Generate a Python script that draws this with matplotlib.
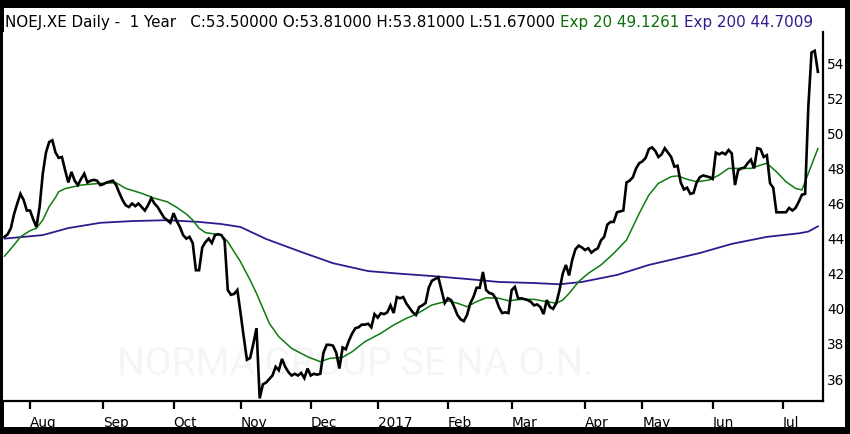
import matplotlib
matplotlib.use("Agg")
import matplotlib.pyplot as plt
import numpy as np
import pandas as pd
from matplotlib.patches import Rectangle

# ---------------- data ----------------
holidays = ["2016-12-26", "2017-04-14", "2017-04-17", "2017-05-01"]

close = [
    44.1, 44.25, 44.6, 45.4, 46.0, 46.55, 46.2, 45.6, 45.6, 45.1,
    44.66, 45.8, 47.7, 48.9, 49.5, 49.6, 48.9, 48.6, 48.65, 47.9,
    47.2, 47.8, 47.3, 47.05, 47.4, 47.7, 47.2, 47.3, 47.35, 47.3,
    47.05, 47.1, 47.2, 47.25, 47.3, 47.05, 46.6, 46.2, 45.9, 45.8,
    46.0, 45.85, 46.0, 45.8, 45.6, 45.9, 46.3, 46.0, 45.8, 45.5,
    45.2, 45.05, 44.9, 45.45, 45.0, 44.66, 44.2, 44.0, 44.1, 43.75,
    42.2, 42.2, 43.5, 43.8, 44.0, 43.75, 44.2, 44.25, 44.2, 43.9,
    41.07, 40.8, 40.85, 41.07, 39.76, 38.4, 37.1, 37.2, 38.0, 38.9,
    34.9, 35.7, 35.8, 36.0, 36.2, 36.7, 36.5, 37.15, 36.7, 36.4,
    36.2, 36.3, 36.2, 36.35, 36.05, 36.6, 36.2, 36.3, 36.25, 36.3,
    37.5, 37.95, 37.95, 37.9, 37.5, 36.6, 37.8, 37.7, 38.2, 38.6,
    38.9, 38.95, 39.1, 39.1, 39.15, 38.95, 39.7, 39.5, 39.75, 39.7,
    39.8, 40.2, 39.76, 40.67, 40.6, 40.67, 40.3, 40.05, 39.8, 39.65,
    40.1, 40.2, 40.33, 41.2, 41.6, 41.7, 41.8, 41.07, 40.33, 40.6,
    40.5, 40.1, 39.65, 39.4, 39.3, 39.65, 40.3, 40.67, 41.2, 41.2,
    42.1, 41.07, 40.9, 40.85, 40.6, 40.1, 39.76, 39.8, 39.76, 41.07,
    41.25, 40.6, 40.6, 40.55, 40.5, 40.4, 40.2, 40.25, 40.1, 39.7,
    40.5, 40.1, 40.0, 40.33, 41.07, 42.0, 42.5, 41.9, 42.8, 43.4,
    43.6, 43.5, 43.35, 43.45, 43.2, 43.35, 43.45, 43.9, 44.1, 44.8,
    44.95, 44.95, 45.5, 45.55, 45.6, 47.2, 47.3, 47.5, 48.0, 48.3,
    48.4, 48.6, 49.1, 49.2, 49.0, 48.65, 48.8, 49.15, 48.9, 48.65,
    48.1, 48.15, 47.2, 46.8, 46.9, 46.55, 46.6, 47.2, 47.5, 47.6,
    47.55, 47.5, 47.4, 48.9, 48.8, 48.9, 48.8, 49.05, 48.85, 47.05,
    47.9, 48.0, 48.05, 48.3, 48.5, 48.0, 49.15, 49.1, 48.65, 48.75,
    47.15, 46.9, 45.5, 45.5, 45.5, 45.5, 45.75, 45.6, 45.75, 46.1,
    46.5, 46.55, 51.5, 54.6, 54.7, 53.5,
]

ema20_dates = [
    "2016-07-20", "2016-07-25", "2016-07-27", "2016-08-01", "2016-08-03",
    "2016-08-05", "2016-08-09", "2016-08-11", "2016-08-12", "2016-08-16",
    "2016-08-23", "2016-08-31", "2016-09-07", "2016-09-12", "2016-09-19",
    "2016-09-23", "2016-09-29", "2016-10-04", "2016-10-07", "2016-10-11",
    "2016-10-13", "2016-10-17", "2016-10-24", "2016-10-26", "2016-10-28",
    "2016-11-01", "2016-11-04", "2016-11-08", "2016-11-10", "2016-11-14",
    "2016-11-17", "2016-11-23", "2016-11-30", "2016-12-06", "2016-12-09",
    "2016-12-15", "2016-12-20", "2016-12-27", "2017-01-03", "2017-01-09",
    "2017-01-13", "2017-01-18", "2017-01-25", "2017-02-01", "2017-02-06",
    "2017-02-09", "2017-02-14", "2017-02-17", "2017-02-23", "2017-02-28",
    "2017-03-06", "2017-03-10", "2017-03-16", "2017-03-21", "2017-03-23",
    "2017-03-27", "2017-03-30", "2017-04-04", "2017-04-10", "2017-04-18",
    "2017-04-24", "2017-04-26", "2017-04-28", "2017-05-04", "2017-05-09",
    "2017-05-15", "2017-05-17", "2017-05-22", "2017-05-25", "2017-05-31",
    "2017-06-05", "2017-06-08", "2017-06-13", "2017-06-19", "2017-06-22",
    "2017-06-26", "2017-06-29", "2017-07-04", "2017-07-07", "2017-07-11",
    "2017-07-13", "2017-07-18",
]
ema20_vals = [
    43.0, 43.64, 44.1, 44.45, 44.59,
    45.06, 45.82, 46.35, 46.67, 46.85,
    47.05, 47.15, 47.18, 46.86, 46.58,
    46.3, 46.1, 45.78, 45.4, 45.06,
    44.59, 44.34, 44.2, 43.82, 43.25,
    42.68, 41.64, 40.88, 40.03, 39.18,
    38.41, 37.75, 37.27, 36.99, 37.18,
    37.24, 37.56, 38.13, 38.61, 39.08,
    39.46, 39.68, 40.22, 40.45, 40.32,
    40.12, 40.41, 40.63, 40.6, 40.46,
    40.54, 40.54, 40.41, 40.32, 40.5,
    40.88, 41.55, 42.02, 42.5, 43.16,
    43.92, 44.68, 45.44, 46.48, 47.15,
    47.53, 47.57, 47.38, 47.24, 47.34,
    47.62, 48.0, 48.0, 48.0, 48.19,
    48.29, 47.81, 47.24, 46.86, 46.77,
    47.72, 49.13,
]

ema200_dates = [
    "2016-07-20", "2016-08-05", "2016-08-17", "2016-08-31", "2016-09-14",
    "2016-09-29", "2016-10-13", "2016-10-24", "2016-11-01", "2016-11-11",
    "2016-11-28", "2016-12-12", "2016-12-28", "2017-01-11", "2017-01-25",
    "2017-02-09", "2017-02-23", "2017-03-10", "2017-03-22", "2017-03-31",
    "2017-04-19", "2017-05-04", "2017-05-16", "2017-05-26", "2017-06-09",
    "2017-06-26", "2017-07-10", "2017-07-13", "2017-07-18",
]
ema200_vals = [
    44.0, 44.2, 44.6, 44.9, 45.0,
    45.05, 44.95, 44.83, 44.66, 43.98,
    43.24, 42.6, 42.15, 42.0, 41.87,
    41.7, 41.53, 41.47, 41.4, 41.53,
    41.93, 42.5, 42.84, 43.18, 43.7,
    44.1, 44.3, 44.4, 44.7,
]

month_tick_dates = ["2016-08-01", "2016-09-01", "2016-10-03", "2016-11-01",
                    "2016-12-01", "2017-01-02", "2017-02-01", "2017-03-01",
                    "2017-04-03", "2017-05-02", "2017-06-01", "2017-07-03"]
month_labels = ["Aug", "Sep", "Oct", "Nov", "Dec", "2017",
                "Feb", "Mar", "Apr", "May", "Jun", "Jul"]
y_ticks = [36, 38, 40, 42, 44, 46, 48, 50, 52, 54]

title_parts = [
    ("NOEJ.XE Daily -  1 Year   C:53.50000 O:53.81000 H:53.81000 L:51.67000 ", "black"),
    ("Exp 20 49.1261 ", "#0b6e0b"),
    ("Exp 200 44.7009", "#33198f"),
]
watermark = "NORMA GROUP SE NA O.N."

# ---------------- layout ----------------
W, H = 850, 434
GREEN = "#0f7a0f"
PURPLE = "#34188f"

days = pd.bdate_range("2016-07-20", "2017-07-18")
days = days[~days.isin(pd.to_datetime(holidays))]
pos = np.arange(len(days))

fig = plt.figure(figsize=(W / 100, H / 100), dpi=100)
fig.patch.set_facecolor("black")
fig.patches.append(Rectangle((4 / W, 7 / H), (845 - 4) / W, (H - 8 - 7) / H,
                             transform=fig.transFigure, facecolor="white",
                             edgecolor="none", zorder=-5))

ax_left, ax_right, ax_top, ax_bottom = 3, 823, 32, 401
ax = fig.add_axes([ax_left / W, (H - ax_bottom) / H,
                   (ax_right - ax_left) / W, (ax_bottom - ax_top) / H])
ax.set_zorder(5)
ax.set_facecolor("white")

ax.text(0.43, 0.10, watermark, transform=ax.transAxes, ha="center", va="center",
        fontsize=28, family="Roboto", color="#f5f5f5", zorder=0)

e200_x = days.get_indexer(pd.to_datetime(ema200_dates))
e20_x = days.get_indexer(pd.to_datetime(ema20_dates))
ax.plot(e200_x, ema200_vals, color=PURPLE, lw=1.3, zorder=2)
ax.plot(e20_x, ema20_vals, color=GREEN, lw=1.1, zorder=3)
ax.plot(pos, close, color="black", lw=1.9, zorder=4, solid_joinstyle="miter")

ax.set_xlim(-0.47, 256.6)
ax.set_ylim(34.75, 55.77)

for s in ("left", "top"):
    ax.spines[s].set_visible(False)
for s in ("right", "bottom"):
    ax.spines[s].set_linewidth(1.6)
    ax.spines[s].set_color("black")

ax.yaxis.tick_right()
ax.set_yticks(y_ticks)
ax.set_yticklabels([str(v) for v in y_ticks])
ax.tick_params(axis="y", length=0, pad=3, labelsize=9.8, labelcolor="black")

mt = days.get_indexer(pd.to_datetime(month_tick_dates))
ax.set_xticks(mt)
ax.set_xticklabels(month_labels, ha="left")
ax.tick_params(axis="x", direction="out", length=6, width=1.6, pad=5,
               labelsize=9.8, labelcolor="black")
for lbl in ax.get_xticklabels():
    lbl.set_horizontalalignment("left")

# title line (multi-coloured)
renderer = fig.canvas.get_renderer()
x = 5 / W
for s, c in title_parts:
    t = fig.text(x, (H - 23) / H, s, color=c, fontsize=10.9, va="center",
                 ha="left", family="DejaVu Sans", zorder=10)
    bb = t.get_window_extent(renderer)
    x = bb.x1 / fig.bbox.width

fig.savefig("out.png", dpi=100, facecolor=fig.get_facecolor())
